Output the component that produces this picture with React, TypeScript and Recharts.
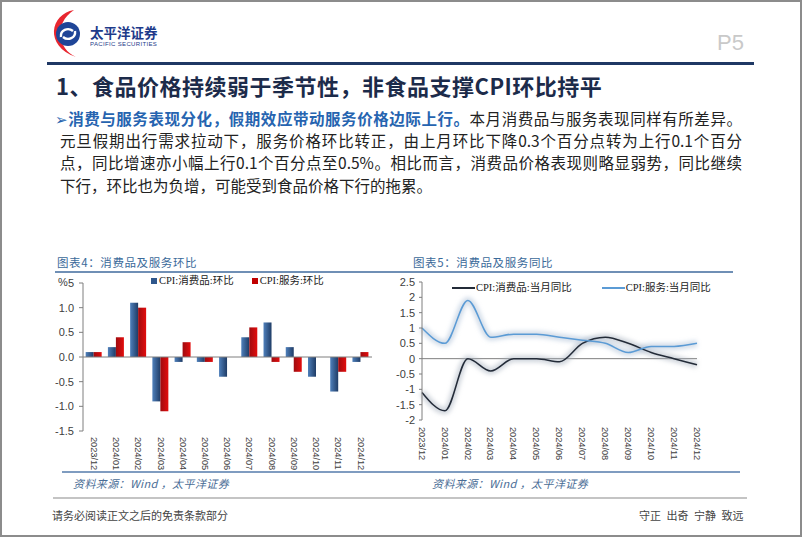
import React from 'react';
import { BarChart, Bar, LineChart, Line, XAxis, YAxis, ReferenceLine, Legend } from 'recharts';

const months = ['2023/12', '2024/01', '2024/02', '2024/03', '2024/04', '2024/05', '2024/06', '2024/07', '2024/08', '2024/09', '2024/10', '2024/11', '2024/12'];
const goodsMoM = [0.1, 0.2, 1.1, -0.9, -0.1, -0.1, -0.4, 0.4, 0.7, 0.2, -0.4, -0.7, -0.1];
const servicesMoM = [0.1, 0.4, 1.0, -1.1, 0.3, -0.1, 0.0, 0.6, -0.1, -0.3, 0.0, -0.3, 0.1];
const goodsYoY = [-1.1, -1.7, 0.0, -0.4, 0.0, 0.0, -0.1, 0.5, 0.7, 0.5, 0.2, 0.0, -0.2];
const servicesYoY = [1.0, 0.5, 1.9, 0.7, 0.8, 0.8, 0.7, 0.6, 0.5, 0.2, 0.4, 0.4, 0.5];
const momTicks = [-1.5, -1, -0.5, 0, 0.5, 1, 1.5];
const yoyTicks = [-2, -1.5, -1, -0.5, 0, 0.5, 1, 1.5, 2, 2.5];

const seriesOrder = ['goods', 'services'];
const momNames = { goods: 'CPI:消费品:环比', services: 'CPI:服务:环比' };
const yoyNames = { goods: 'CPI:消费品:当月同比', services: 'CPI:服务:当月同比' };

const momData = months.map((m, i) => ({ month: m, goods: goodsMoM[i], services: servicesMoM[i] }));
const yoyData = months.map((m, i) => ({ month: m, goods: goodsYoY[i], services: servicesYoY[i] }));

const SANS = "'Noto Sans CJK SC', 'Noto Sans', sans-serif";
const LEG_FONT = "'Liberation Serif', 'Noto Sans CJK SC', serif";
const TICK_FONT = "'Liberation Sans', Arial, sans-serif";

const barSolid: Record<string, string> = { goods: '#2f578c', services: '#c00000' };
const lineColors: Record<string, string> = { goods: '#232b38', services: '#5b9bd5' };

const VerticalTick = (props: any) => {
  const { x, y, payload } = props;
  return (
    <text x={x} y={y} dy={3.3} transform={`rotate(90, ${x}, ${y})`} textAnchor="start" fontSize={9.2} fill="#404040" fontFamily={TICK_FONT}>
      {payload.value}
    </text>
  );
};

const sortItems = (payload: any[]) =>
  (payload || [])
    .filter((p: any) => p.type !== 'none')
    .slice()
    .sort((a: any, b: any) => seriesOrder.indexOf(a.dataKey) - seriesOrder.indexOf(b.dataKey));

const BarLegend = (props: any) => {
  const items = sortItems(props.payload);
  return (
    <div style={{ display: 'flex', whiteSpace: 'nowrap', fontFamily: LEG_FONT, fontSize: 10.5, lineHeight: '14px', color: '#222' }}>
      {items.map((p: any, i: number) => (
        <span key={p.dataKey} style={{ display: 'flex', alignItems: 'center', marginLeft: i === 0 ? 0 : 18 }}>
          <span style={{ display: 'inline-block', width: 6, height: 6, background: barSolid[p.dataKey], marginRight: 2 }} />
          {p.value}
        </span>
      ))}
    </div>
  );
};

const LineLegend = (props: any) => {
  const items = sortItems(props.payload);
  return (
    <div style={{ display: 'flex', whiteSpace: 'nowrap', fontFamily: LEG_FONT, fontSize: 10.5, lineHeight: '14px', color: '#222' }}>
      {items.map((p: any, i: number) => (
        <span key={p.dataKey} style={{ display: 'flex', alignItems: 'center', marginLeft: i === 0 ? 0 : 30 }}>
          <span style={{ display: 'inline-block', width: 23, height: 1.5, background: lineColors[p.dataKey], marginRight: 1 }} />
          {p.value}
        </span>
      ))}
    </div>
  );
};

const abs = (left: number, top: number, extra: React.CSSProperties = {}): React.CSSProperties => ({ position: 'absolute', left, top, ...extra });

const bodyLine: React.CSSProperties = { fontSize: 15.5, lineHeight: '22px', color: '#222', whiteSpace: 'nowrap' };

export default function App() {
  return (
    <div style={{ position: 'absolute', left: 0, top: 0, width: 802, height: 537, background: '#fff', overflow: 'hidden', fontFamily: SANS }}>
      <div style={{ position: 'absolute', left: 0, top: 0, width: 802, height: 537, border: '2px solid #8c8c8c', boxSizing: 'border-box' }} />

      {/* logo */}
      <svg style={abs(0, 0)} width={170} height={62}>
        <path d="M 74 10 C 50 14, 44 46, 76 57 C 58 49, 53 24, 74 10 Z" fill="#e8262f" />
        <circle cx={68} cy={34} r={12} fill="#1f4597" />
        <path d="M 61 37 C 60 30, 68 27, 73 31" stroke="#fff" strokeWidth={2.4} fill="none" />
        <path d="M 75 31 C 76 38, 68 41, 63 37" stroke="#fff" strokeWidth={2.4} fill="none" />
      </svg>
      <div style={abs(90, 23, { fontSize: 13.5, fontWeight: 700, color: '#1d3a8a', lineHeight: '18px' })}>太平洋证券</div>
      <div style={abs(90, 40, { fontSize: 6, color: '#1d3a8a', letterSpacing: 0.35, fontFamily: TICK_FONT, lineHeight: '8px', whiteSpace: 'nowrap' })}>PACIFIC SECURITIES</div>
      <div style={abs(717, 30, { fontSize: 22, color: '#c9c9c9', fontFamily: TICK_FONT, lineHeight: '26px' })}>P5</div>

      <div style={abs(47, 62, { width: 707, height: 3, background: '#1f3864' })} />

      <div style={abs(56, 72, { fontSize: 22, fontWeight: 700, color: '#1c2b4a', lineHeight: '26px', whiteSpace: 'nowrap', letterSpacing: 0.5 })}>
        1、食品价格持续弱于季节性，非食品支撑CPI环比持平
      </div>

      <div style={abs(55, 107, { ...bodyLine, width: 687, textAlign: 'justify', textAlignLast: 'justify' as any })}>
        <span style={{ color: '#2664b0', fontWeight: 700 }}>
          <span style={{ fontFamily: "'DejaVu Sans'", fontSize: 15, fontWeight: 400 }}>➢</span>消费与服务表现分化，假期效应带动服务价格边际上行。
        </span>
        本月消费品与服务表现同样有所差异。
      </div>
      <div style={abs(60, 129, { ...bodyLine, width: 682, textAlign: 'justify', textAlignLast: 'justify' as any })}>
        元旦假期出行需求拉动下，服务价格环比转正，由上月环比下降0.3个百分点转为上行0.1个百分
      </div>
      <div style={abs(60, 151, { ...bodyLine, width: 682, textAlign: 'justify', textAlignLast: 'justify' as any })}>
        点，同比增速亦小幅上行0.1个百分点至0.5%。相比而言，消费品价格表现则略显弱势，同比继续
      </div>
      <div style={abs(60, 174, bodyLine)}>
        下行，环比也为负增，可能受到食品价格下行的拖累。
      </div>

      {/* chart titles */}
      <div style={abs(57, 254, { fontSize: 11.5, color: '#3b6a9a', letterSpacing: 0.6, lineHeight: '16px', whiteSpace: 'nowrap' })}>图表4：消费品及服务环比</div>
      <div style={abs(413, 254, { fontSize: 11.5, color: '#3b6a9a', letterSpacing: 0.6, lineHeight: '16px', whiteSpace: 'nowrap' })}>图表5：消费品及服务同比</div>
      <div style={abs(55, 271, { width: 678, height: 1.5, background: '#6f8fb5' })} />

      {/* left chart */}
      <div style={abs(40, 270)}>
        <BarChart width={350} height={215} data={momData} margin={{ top: 13, right: 18, bottom: 14, left: 0 }} barCategoryGap="12%" barGap={0}>
          <defs>
            <linearGradient id="gBlue" x1="0" y1="0" x2="1" y2="0">
              <stop offset="0" stopColor="#4f80bb" />
              <stop offset="1" stopColor="#1f3c66" />
            </linearGradient>
            <linearGradient id="gRed" x1="0" y1="0" x2="1" y2="0">
              <stop offset="0" stopColor="#9e0b0f" />
              <stop offset="1" stopColor="#e30d0d" />
            </linearGradient>
          </defs>
          <XAxis dataKey="month" axisLine={false} tickLine={false} tickSize={0} tickMargin={6} height={40} interval={0} tick={<VerticalTick />} />
          <YAxis type="number" domain={[-1.5, 1.5]} ticks={momTicks} interval={0} width={43} tickSize={4} tickMargin={5}
            axisLine={{ stroke: '#7f7f7f' }} tickLine={{ stroke: '#7f7f7f' }}
            tickFormatter={(v: number) => v.toFixed(1)} tick={{ fontSize: 11, fill: '#404040', fontFamily: TICK_FONT }} />
          <ReferenceLine y={0} stroke="#7f7f7f" strokeWidth={1} />
          <Legend layout="horizontal" verticalAlign="middle" align="center" content={<BarLegend />} wrapperStyle={{ top: 4, left: 111, width: 'auto' }} />
          <Bar dataKey="goods" name={momNames.goods} fill="url(#gBlue)" isAnimationActive={false} />
          <Bar dataKey="services" name={momNames.services} fill="url(#gRed)" isAnimationActive={false} />
        </BarChart>
      </div>
      <div style={abs(58, 275, { fontSize: 11, fontFamily: TICK_FONT, color: '#404040', background: '#fff', lineHeight: '14px', width: 10 })}>%</div>

      {/* right chart */}
      <div style={abs(380, 270)}>
        <LineChart width={340} height={215} data={yoyData} margin={{ top: 12, right: 23, bottom: 15, left: 0 }}>
          <defs>
            <filter id="glow" x="-5%" y="-30%" width="110%" height="160%">
              <feGaussianBlur stdDeviation="2" />
            </filter>
          </defs>
          <XAxis dataKey="month" axisLine={false} tickLine={false} tickSize={0} tickMargin={7} height={50} interval={0} tick={<VerticalTick />} />
          <YAxis type="number" domain={[-2, 2.5]} ticks={yoyTicks} interval={0} width={42} tickSize={3} tickMargin={4}
            axisLine={{ stroke: '#7f7f7f' }} tickLine={{ stroke: '#7f7f7f' }}
            tick={{ fontSize: 11, fill: '#404040', fontFamily: TICK_FONT }} />
          <ReferenceLine y={0} stroke="#7f7f7f" strokeWidth={1} />
          <Legend layout="horizontal" verticalAlign="middle" align="center" content={<LineLegend />} wrapperStyle={{ top: 11, left: 72, width: 'auto' }} />
          <Line type="monotone" dataKey="goods" legendType="none" stroke="#a3adbb" strokeOpacity={0.5} strokeWidth={7} dot={false} activeDot={false} filter="url(#glow)" isAnimationActive={false} />
          <Line type="monotone" dataKey="services" legendType="none" stroke="#a9bdd4" strokeOpacity={0.5} strokeWidth={7} dot={false} activeDot={false} filter="url(#glow)" isAnimationActive={false} />
          <Line type="monotone" dataKey="goods" name={yoyNames.goods} stroke={lineColors.goods} strokeWidth={1.5} dot={false} activeDot={false} isAnimationActive={false} />
          <Line type="monotone" dataKey="services" name={yoyNames.services} stroke={lineColors.services} strokeWidth={1.5} dot={false} activeDot={false} isAnimationActive={false} />
        </LineChart>
      </div>

      <div style={abs(62, 471, { width: 678, height: 1.5, background: '#7f9cc0' })} />
      <div style={abs(73, 476, { fontSize: 11, fontStyle: 'italic', color: '#4a6d96', letterSpacing: 0.4, lineHeight: '15px', whiteSpace: 'nowrap' })}>资料来源：Wind ，太平洋证券</div>
      <div style={abs(432, 476, { fontSize: 11, fontStyle: 'italic', color: '#4a6d96', letterSpacing: 0.4, lineHeight: '15px', whiteSpace: 'nowrap' })}>资料来源：Wind ，太平洋证券</div>
      <div style={abs(53, 497, { width: 694, height: 2, background: '#c4c4c4' })} />

      <div style={abs(52, 508, { fontSize: 11, color: '#444', lineHeight: '15px', whiteSpace: 'nowrap' })}>请务必阅读正文之后的免责条款部分</div>
      <div style={abs(639, 508, { fontSize: 11, color: '#444', lineHeight: '15px', whiteSpace: 'nowrap', wordSpacing: 3 })}>守正 出奇 宁静 致远</div>
    </div>
  );
}
